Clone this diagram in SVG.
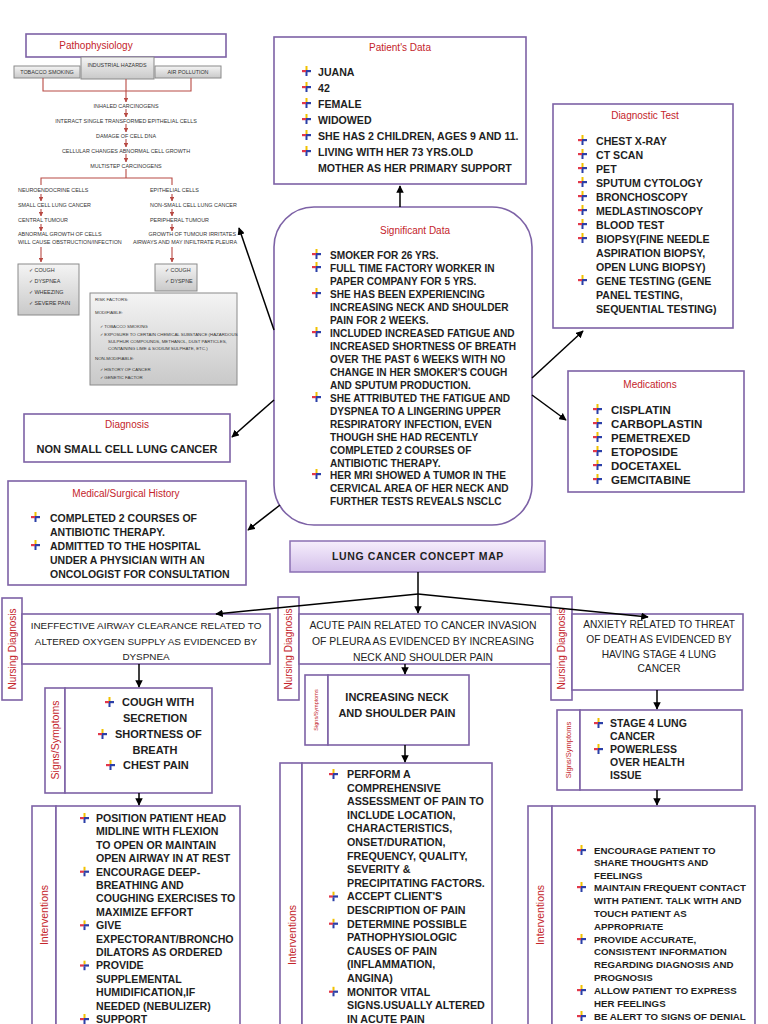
<svg xmlns="http://www.w3.org/2000/svg" width="768" height="1024" viewBox="0 0 768 1024">
<style>
.t{font-family:"Liberation Sans Narrow","Liberation Sans",Arial,sans-serif;font-weight:bold;fill:#1e1e1e}
.n{font-family:"Liberation Sans Narrow","Liberation Sans",Arial,sans-serif;fill:#222}
.h{font-family:"Liberation Sans",Arial,sans-serif;fill:#c4242b;font-size:10px;text-anchor:middle}
.v{font-family:"Liberation Sans",Arial,sans-serif;fill:#c4242b;text-anchor:middle}
.box{fill:#fff;stroke:#7d62a6;stroke-width:1.6}
.g{fill:url(#gg);stroke:#8a8a8a;stroke-width:1}
.p{font-family:"Liberation Sans Narrow","Liberation Sans",Arial,sans-serif;fill:#333;font-size:5.4px}
.ln{stroke:#000;stroke-width:1.5;fill:none;marker-end:url(#ah)}
.rl{stroke:#b84a44;stroke-width:1.1;fill:none}
.ra{stroke:#b84a44;stroke-width:1.1;fill:none;marker-end:url(#rh)}
</style>
<defs>
<marker id="ah" viewBox="0 0 10 10" refX="9" refY="5" markerWidth="5" markerHeight="5" orient="auto" markerUnits="strokeWidth"><path d="M0,0 L10,5 L0,10 z" fill="#000"/></marker>
<marker id="rh" viewBox="0 0 10 10" refX="9" refY="5" markerWidth="4" markerHeight="4" orient="auto" markerUnits="strokeWidth"><path d="M0,0 L10,5 L0,10 z" fill="#b84a44"/></marker>
<linearGradient id="gg" x1="0" y1="0" x2="0" y2="1"><stop offset="0" stop-color="#f4f4f4"/><stop offset="1" stop-color="#c9c9c9"/></linearGradient>
<linearGradient id="pg" x1="0" y1="0" x2="0" y2="1"><stop offset="0" stop-color="#f6eefc"/><stop offset="1" stop-color="#d3bfea"/></linearGradient>
<symbol id="bul" viewBox="0 0 9 10"><rect x="3.5" y="0" width="2" height="4" fill="#f2c200"/><rect x="0" y="4" width="4" height="2.2" fill="#e2384a"/><rect x="4" y="4" width="5" height="2.2" fill="#2b3fa8"/><rect x="3.5" y="6" width="2" height="4" fill="#2b3fa8"/></symbol>
</defs>

<!-- Pathophysiology -->
<g id="pathophysiology">
<rect class="box" x="26" y="34" width="200" height="23"/>
<text class="h" x="96" y="49">Pathophysiology</text>
<rect class="g" x="14" y="66" width="66" height="12"/>
<text class="p" x="47" y="74" text-anchor="middle">TOBACCO SMOKING</text>
<rect class="g" x="81" y="57" width="73" height="22"/>
<text class="p" x="117" y="67" text-anchor="middle">INDUSTRIAL HAZARDS</text>
<rect class="g" x="155" y="66" width="66" height="12"/>
<text class="p" x="188" y="74" text-anchor="middle">AIR POLLUTION</text>
<path class="rl" d="M43,78 V91 H191 V78 M126,79 V91"/>
<line class="ra" x1="126" y1="91" x2="126" y2="102"/>
<text class="p" x="126" y="108" text-anchor="middle">INHALED CARCINOGENS</text>
<line class="ra" x1="126" y1="109" x2="126" y2="117"/>
<text class="p" x="126" y="123" text-anchor="middle">INTERACT SINGLE TRANSFORMED EPITHELIAL CELLS</text>
<line class="ra" x1="126" y1="124" x2="126" y2="132"/>
<text class="p" x="126" y="138" text-anchor="middle">DAMAGE OF CELL DNA</text>
<line class="ra" x1="126" y1="139" x2="126" y2="147"/>
<text class="p" x="126" y="153" text-anchor="middle">CELLULAR CHANGES ABNORMAL CELL GROWTH</text>
<line class="ra" x1="126" y1="154" x2="126" y2="162"/>
<text class="p" x="126" y="168" text-anchor="middle">MULTISTEP CARCINOGENS</text>
<path class="rl" d="M126,169 V178 M41,185 V178 H172 V185"/>
<text class="p" x="18" y="192">NEUROENDOCRINE CELLS</text>
<text class="p" x="18" y="207">SMALL CELL LUNG CANCER</text>
<text class="p" x="18" y="222">CENTRAL TUMOUR</text>
<text class="p" x="18" y="236">ABNORMAL GROWTH OF CELLS</text>
<text class="p" x="18" y="244">WILL CAUSE OBSTRUCTION/INFECTION</text>
<line class="ra" x1="41" y1="194" x2="41" y2="201"/>
<line class="ra" x1="41" y1="209" x2="41" y2="216"/>
<line class="ra" x1="41" y1="224" x2="41" y2="231"/>
<line class="ra" x1="41" y1="247" x2="41" y2="262"/>
<text class="p" x="150" y="192">EPITHELIAL CELLS</text>
<text class="p" x="150" y="207">NON-SMALL CELL LUNG CANCER</text>
<text class="p" x="150" y="222">PERIPHERAL TUMOUR</text>
<text class="p" x="236" y="236" text-anchor="end">GROWTH OF TUMOUR IRRITATES</text>
<text class="p" x="237" y="244" text-anchor="end">AIRWAYS AND MAY INFILTRATE PLEURA</text>
<line class="ra" x1="172" y1="194" x2="172" y2="201"/>
<line class="ra" x1="172" y1="209" x2="172" y2="216"/>
<line class="ra" x1="172" y1="224" x2="172" y2="231"/>
<line class="ra" x1="172" y1="247" x2="172" y2="262"/>
<rect class="g" x="18" y="264" width="61" height="51"/>
<text class="p" x="29" y="272">✓ COUGH</text>
<text class="p" x="29" y="283">✓ DYSPNEA</text>
<text class="p" x="29" y="294">✓ WHEEZING</text>
<text class="p" x="29" y="305">✓ SEVERE PAIN</text>
<rect class="g" x="155" y="264" width="42" height="27"/>
<text class="p" x="165" y="272">✓ COUGH</text>
<text class="p" x="165" y="283">✓ DYSPNE</text>
<rect class="g" x="90" y="293" width="147" height="92"/>
<g class="p" style="font-size:4.4px">
<text x="95" y="301">RISK FACTORS:</text>
<text x="95" y="314">MODIFIABLE:</text>
<text x="100" y="328">✓  TOBACCO SMOKING</text>
<text x="100" y="336">✓  EXPOSURE TO CERTAIN CHEMICAL SUBSTANCE (HAZARDOUS</text>
<text x="108" y="343">SULPHUR COMPOUNDS, METHANOL, DUST PARTICLES,</text>
<text x="108" y="350">CONTAINING LIME &amp; SODIUM SULPHATE, ETC.)</text>
<text x="95" y="360">NON-MODIFIABLE:</text>
<text x="100" y="371">✓  HISTORY OF CANCER</text>
<text x="100" y="379">✓  GENETIC FACTOR</text>
</g>
</g>

<!-- Patient's Data -->
<g id="patients-data">
<rect class="box" x="274" y="37" width="252" height="147"/>
<text class="h" x="400" y="51">Patient's Data</text>
<g class="t" style="font-size:10.6px">
<use href="#bul" x="302" y="66" width="9" height="10"/><text x="318" y="76">JUANA</text>
<use href="#bul" x="302" y="82" width="9" height="10"/><text x="318" y="92">42</text>
<use href="#bul" x="302" y="98" width="9" height="10"/><text x="318" y="108">FEMALE</text>
<use href="#bul" x="302" y="114" width="9" height="10"/><text x="318" y="124">WIDOWED</text>
<use href="#bul" x="302" y="130" width="9" height="10"/><text x="318" y="140">SHE HAS 2 CHILDREN, AGES 9 AND 11.</text>
<use href="#bul" x="302" y="146" width="9" height="10"/><text x="318" y="156">LIVING WITH HER 73 YRS.OLD</text>
<text x="318" y="172">MOTHER AS HER PRIMARY SUPPORT</text>
</g>
</g>

<!-- Diagnostic Test -->
<g id="diagnostic-test">
<rect class="box" x="553" y="104" width="180" height="224"/>
<text class="h" x="645" y="119">Diagnostic Test</text>
<g class="t" style="font-size:10.6px">
<use href="#bul" x="578" y="135" width="9" height="10"/><text x="596" y="145">CHEST X-RAY</text>
<use href="#bul" x="578" y="149" width="9" height="10"/><text x="596" y="159">CT SCAN</text>
<use href="#bul" x="578" y="163" width="9" height="10"/><text x="596" y="173">PET</text>
<use href="#bul" x="578" y="177" width="9" height="10"/><text x="596" y="187">SPUTUM CYTOLOGY</text>
<use href="#bul" x="578" y="191" width="9" height="10"/><text x="596" y="201">BRONCHOSCOPY</text>
<use href="#bul" x="578" y="205" width="9" height="10"/><text x="596" y="215">MEDLASTINOSCOPY</text>
<use href="#bul" x="578" y="219" width="9" height="10"/><text x="596" y="229">BLOOD TEST</text>
<use href="#bul" x="578" y="233" width="9" height="10"/><text x="596" y="243">BIOPSY(FINE NEEDLE</text>
<text x="596" y="257">ASPIRATION BIOPSY,</text>
<text x="596" y="271">OPEN LUNG BIOPSY)</text>
<use href="#bul" x="578" y="275" width="9" height="10"/><text x="596" y="285">GENE TESTING (GENE</text>
<text x="596" y="299">PANEL TESTING,</text>
<text x="596" y="313">SEQUENTIAL TESTING)</text>
</g>
</g>

<!-- Significant Data -->
<g id="significant-data">
<rect class="box" x="274" y="207" width="258" height="318" rx="40"/>
<text class="h" x="415" y="234">Significant Data</text>
<g class="t" style="font-size:10.1px">
<use href="#bul" x="312" y="249" width="9" height="10"/><text x="330" y="259">SMOKER FOR 26 YRS.</text>
<use href="#bul" x="312" y="262" width="9" height="10"/><text x="330" y="272">FULL TIME FACTORY WORKER IN</text>
<text x="330" y="285">PAPER COMPANY FOR 5 YRS.</text>
<use href="#bul" x="312" y="288" width="9" height="10"/><text x="330" y="298">SHE HAS BEEN EXPERIENCING</text>
<text x="330" y="311">INCREASING NECK AND SHOULDER</text>
<text x="330" y="324">PAIN FOR 2 WEEKS.</text>
<use href="#bul" x="312" y="327" width="9" height="10"/><text x="330" y="337">INCLUDED INCREASED FATIGUE AND</text>
<text x="330" y="350">INCREASED SHORTNESS OF BREATH</text>
<text x="330" y="363">OVER THE PAST 6 WEEKS WITH NO</text>
<text x="330" y="376">CHANGE IN HER SMOKER'S COUGH</text>
<text x="330" y="389">AND SPUTUM PRODUCTION.</text>
<use href="#bul" x="312" y="392" width="9" height="10"/><text x="330" y="402">SHE ATTRIBUTED THE FATIGUE AND</text>
<text x="330" y="415">DYSPNEA TO A LINGERING UPPER</text>
<text x="330" y="428">RESPIRATORY INFECTION, EVEN</text>
<text x="330" y="441">THOUGH SHE HAD RECENTLY</text>
<text x="330" y="454">COMPLETED 2 COURSES OF</text>
<text x="330" y="467">ANTIBIOTIC THERAPY.</text>
<use href="#bul" x="312" y="469" width="9" height="10"/><text x="330" y="479">HER MRI SHOWED A TUMOR IN THE</text>
<text x="330" y="492">CERVICAL AREA OF HER NECK AND</text>
<text x="330" y="505">FURTHER TESTS REVEALS NSCLC</text>
</g>
</g>

<!-- Medications -->
<g id="medications">
<rect class="box" x="568" y="371" width="176" height="121"/>
<text class="h" x="650" y="388">Medications</text>
<g class="t" style="font-size:11.5px">
<use href="#bul" x="593" y="404" width="9" height="10"/><text x="611" y="414">CISPLATIN</text>
<use href="#bul" x="593" y="418" width="9" height="10"/><text x="611" y="428">CARBOPLASTIN</text>
<use href="#bul" x="593" y="432" width="9" height="10"/><text x="611" y="442">PEMETREXED</text>
<use href="#bul" x="593" y="446" width="9" height="10"/><text x="611" y="456">ETOPOSIDE</text>
<use href="#bul" x="593" y="460" width="9" height="10"/><text x="611" y="470">DOCETAXEL</text>
<use href="#bul" x="593" y="474" width="9" height="10"/><text x="611" y="484">GEMCITABINE</text>
</g>
</g>

<!-- Diagnosis -->
<g id="diagnosis">
<rect class="box" x="24" y="414" width="206" height="48"/>
<text class="h" x="127" y="428">Diagnosis</text>
<text class="t" x="127" y="453" style="font-size:11px" text-anchor="middle">NON SMALL CELL LUNG CANCER</text>
</g>

<!-- Medical/Surgical History -->
<g id="medical-history">
<rect class="box" x="8" y="481" width="238" height="104"/>
<text class="h" x="126" y="497">Medical/Surgical History</text>
<g class="t" style="font-size:10.5px">
<use href="#bul" x="31" y="512" width="9" height="10"/><text x="50" y="522">COMPLETED 2 COURSES OF</text>
<text x="50" y="536">ANTIBIOTIC THERAPY.</text>
<use href="#bul" x="31" y="540" width="9" height="10"/><text x="50" y="550">ADMITTED TO THE HOSPITAL</text>
<text x="50" y="564">UNDER A PHYSICIAN WITH AN</text>
<text x="50" y="578">ONCOLOGIST FOR CONSULTATION</text>
</g>
</g>

<!-- Title -->
<g id="concept-map-title">
<rect x="290" y="541" width="255" height="31" fill="url(#pg)" stroke="#8a6fb3" stroke-width="1.5"/>
<text class="t" x="418" y="560" style="font-size:10.5px;letter-spacing:0.6px" text-anchor="middle">LUNG CANCER CONCEPT MAP</text>
</g>

<!-- Nursing diagnoses -->
<g id="nd-airway">
<rect class="box" x="2" y="598" width="20" height="102"/>
<text class="v" transform="translate(15.5,649) rotate(-90)" style="font-size:10px">Nursing Diagnosis</text>
<rect class="box" x="22" y="614" width="248" height="50"/>
<g class="n" style="font-size:9.9px" text-anchor="middle">
<text x="146" y="629">INEFFECTIVE AIRWAY CLEARANCE RELATED TO</text>
<text x="146" y="645">ALTERED OXYGEN SUPPLY AS EVIDENCED BY</text>
<text x="146" y="660">DYSPNEA</text>
</g>
</g>
<g id="nd-pain">
<rect class="box" x="278" y="597" width="21" height="103"/>
<text class="v" transform="translate(292,649) rotate(-90)" style="font-size:10px">Nursing Diagnosis</text>
<rect class="box" x="299" y="614" width="258" height="50"/>
<g class="n" style="font-size:10.4px" text-anchor="middle">
<text x="423" y="629">ACUTE PAIN RELATED TO CANCER INVASION</text>
<text x="423" y="645">OF PLEURA AS EVIDENCED BY INCREASING</text>
<text x="423" y="661">NECK AND SHOULDER PAIN</text>
</g>
</g>
<g id="nd-anxiety">
<rect class="box" x="551" y="597" width="21" height="103"/>
<text class="v" transform="translate(565,649) rotate(-90)" style="font-size:10px">Nursing Diagnosis</text>
<rect class="box" x="572" y="614" width="171" height="76"/>
<g class="n" style="font-size:10.2px" text-anchor="middle">
<text x="659" y="628">ANXIETY RELATED TO THREAT</text>
<text x="659" y="643">OF DEATH AS EVIDENCED BY</text>
<text x="659" y="658">HAVING STAGE 4 LUNG</text>
<text x="659" y="672">CANCER</text>
</g>
</g>

<!-- Signs / symptoms -->
<g id="ss-airway">
<rect class="box" x="45" y="688" width="20" height="105"/>
<text class="v" transform="translate(59,740) rotate(-90)" style="font-size:10.5px">Signs/Symptoms</text>
<rect class="box" x="65" y="688" width="147" height="105"/>
<g class="t" style="font-size:11px">
<use href="#bul" x="105" y="697" width="9" height="10"/><text x="122" y="706">COUGH WITH</text>
<text x="155" y="722" text-anchor="middle">SECRETION</text>
<use href="#bul" x="98" y="729" width="9" height="10"/><text x="115" y="738">SHORTNESS OF</text>
<text x="155" y="754" text-anchor="middle">BREATH</text>
<use href="#bul" x="106" y="760" width="9" height="10"/><text x="123" y="769">CHEST PAIN</text>
</g>
</g>
<g id="ss-pain">
<rect class="box" x="305" y="675" width="23" height="70"/>
<text class="v" transform="translate(318,710) rotate(-90)" style="font-size:5.5px">Signs/Symptoms</text>
<rect class="box" x="328" y="675" width="141" height="70"/>
<g class="t" style="font-size:11px" text-anchor="middle">
<text x="397" y="701">INCREASING NECK</text>
<text x="397" y="717">AND SHOULDER PAIN</text>
</g>
</g>
<g id="ss-anxiety">
<rect class="box" x="557" y="710" width="23" height="80"/>
<text class="v" transform="translate(571,750) rotate(-90)" style="font-size:7.5px">Signs/Symptoms</text>
<rect class="box" x="580" y="710" width="162" height="80"/>
<g class="t" style="font-size:10.5px">
<use href="#bul" x="594" y="718" width="9" height="10"/><text x="610" y="727">STAGE 4 LUNG</text>
<text x="610" y="740">CANCER</text>
<use href="#bul" x="594" y="744" width="9" height="10"/><text x="610" y="753">POWERLESS</text>
<text x="610" y="766">OVER HEALTH</text>
<text x="610" y="779">ISSUE</text>
</g>
</g>

<!-- Interventions -->
<g id="int-airway">
<rect class="box" x="32" y="806" width="24" height="230"/>
<text class="v" transform="translate(48,915) rotate(-90)" style="font-size:10.5px">Interventions</text>
<rect class="box" x="56" y="806" width="184" height="230"/>
<g class="t" style="font-size:10.6px">
<use href="#bul" x="80" y="813" width="9" height="10"/><text x="96" y="822">POSITION PATIENT HEAD</text>
<text x="96" y="835.4">MIDLINE WITH FLEXION</text>
<text x="96" y="848.8">TO OPEN OR MAINTAIN</text>
<text x="96" y="862.2">OPEN AIRWAY IN AT REST</text>
<use href="#bul" x="80" y="866.6" width="9" height="10"/><text x="96" y="875.6">ENCOURAGE DEEP-</text>
<text x="96" y="889">BREATHING AND</text>
<text x="96" y="902.4">COUGHING EXERCISES TO</text>
<text x="96" y="915.8">MAXIMIZE EFFORT</text>
<use href="#bul" x="80" y="920.2" width="9" height="10"/><text x="96" y="929.2">GIVE</text>
<text x="96" y="942.6">EXPECTORANT/BRONCHO</text>
<text x="96" y="956">DILATORS AS ORDERED</text>
<use href="#bul" x="80" y="960.4" width="9" height="10"/><text x="96" y="969.4">PROVIDE</text>
<text x="96" y="982.8">SUPPLEMENTAL</text>
<text x="96" y="996.2">HUMIDIFICATION,IF</text>
<text x="96" y="1009.6">NEEDED (NEBULIZER)</text>
<use href="#bul" x="80" y="1014" width="9" height="10"/><text x="96" y="1023">SUPPORT</text>
</g>
</g>
<g id="int-pain">
<rect class="box" x="280" y="763" width="22" height="273"/>
<text class="v" transform="translate(296,935) rotate(-90)" style="font-size:10.5px">Interventions</text>
<rect class="box" x="302" y="763" width="190" height="273"/>
<g class="t" style="font-size:10.7px">
<use href="#bul" x="329" y="769" width="9" height="10"/><text x="347" y="778">PERFORM A</text>
<text x="347" y="791.6">COMPREHENSIVE</text>
<text x="347" y="805.2">ASSESSMENT OF PAIN TO</text>
<text x="347" y="818.8">INCLUDE LOCATION,</text>
<text x="347" y="832.4">CHARACTERISTICS,</text>
<text x="347" y="846">ONSET/DURATION,</text>
<text x="347" y="859.6">FREQUENCY, QUALITY,</text>
<text x="347" y="873.2">SEVERITY &amp;</text>
<text x="347" y="886.8">PRECIPITATING FACTORS.</text>
<use href="#bul" x="329" y="891.4" width="9" height="10"/><text x="347" y="900.4">ACCEPT CLIENT'S</text>
<text x="347" y="914">DESCRIPTION OF PAIN</text>
<use href="#bul" x="329" y="918.6" width="9" height="10"/><text x="347" y="927.6">DETERMINE POSSIBLE</text>
<text x="347" y="941.2">PATHOPHYSIOLOGIC</text>
<text x="347" y="954.8">CAUSES OF PAIN</text>
<text x="347" y="968.4">(INFLAMMATION,</text>
<text x="347" y="982">ANGINA)</text>
<use href="#bul" x="329" y="986.6" width="9" height="10"/><text x="347" y="995.6">MONITOR VITAL</text>
<text x="347" y="1009.2">SIGNS.USUALLY ALTERED</text>
<text x="347" y="1022.8">IN ACUTE PAIN</text>
</g>
</g>
<g id="int-anxiety">
<rect class="box" x="528" y="806" width="24" height="230"/>
<text class="v" transform="translate(544,915) rotate(-90)" style="font-size:10.5px">Interventions</text>
<rect class="box" x="552" y="806" width="203" height="230"/>
<g class="t" style="font-size:9.7px">
<use href="#bul" x="577" y="845" width="9" height="10"/><text x="594" y="854">ENCOURAGE PATIENT TO</text>
<text x="594" y="866">SHARE THOUGHTS AND</text>
<text x="594" y="879">FEELINGS</text>
<use href="#bul" x="577" y="882" width="9" height="10"/><text x="594" y="891">MAINTAIN FREQUENT CONTACT</text>
<text x="594" y="904">WITH PATIENT. TALK WITH AND</text>
<text x="594" y="917">TOUCH PATIENT AS</text>
<text x="594" y="930">APPROPRIATE</text>
<use href="#bul" x="577" y="934" width="9" height="10"/><text x="594" y="943">PROVIDE ACCURATE,</text>
<text x="594" y="955">CONSISTENT INFORMATION</text>
<text x="594" y="968">REGARDING DIAGNOSIS AND</text>
<text x="594" y="981">PROGNOSIS</text>
<use href="#bul" x="577" y="985" width="9" height="10"/><text x="594" y="994">ALLOW PATIENT TO EXPRESS</text>
<text x="594" y="1007">HER FEELINGS</text>
<use href="#bul" x="577" y="1011" width="9" height="10"/><text x="594" y="1020">BE ALERT TO SIGNS OF DENIAL</text>
</g>
</g>

<!-- Connectors -->
<g id="connectors">
<line class="ln" x1="400" y1="207" x2="400" y2="186"/>
<line class="ln" x1="274" y1="330" x2="239" y2="228"/>
<line class="ln" x1="532" y1="378" x2="583" y2="331"/>
<line class="ln" x1="532" y1="395" x2="566" y2="420"/>
<line class="ln" x1="274" y1="400" x2="232" y2="437"/>
<line class="ln" x1="280" y1="505" x2="248" y2="530"/>
<path d="M418,572 V594" stroke="#000" stroke-width="1.5" fill="none"/>
<line class="ln" x1="418" y1="594" x2="216" y2="614"/>
<line class="ln" x1="418" y1="594" x2="418" y2="613"/>
<line class="ln" x1="418" y1="594" x2="648" y2="617"/>
<line class="ln" x1="139" y1="664" x2="139" y2="687"/>
<line class="ln" x1="405" y1="664" x2="405" y2="674"/>
<line class="ln" x1="657" y1="690" x2="657" y2="709"/>
<line class="ln" x1="139" y1="793" x2="139" y2="805"/>
<line class="ln" x1="405" y1="745" x2="405" y2="762"/>
<line class="ln" x1="657" y1="790" x2="657" y2="805"/>
</g>
</svg>
